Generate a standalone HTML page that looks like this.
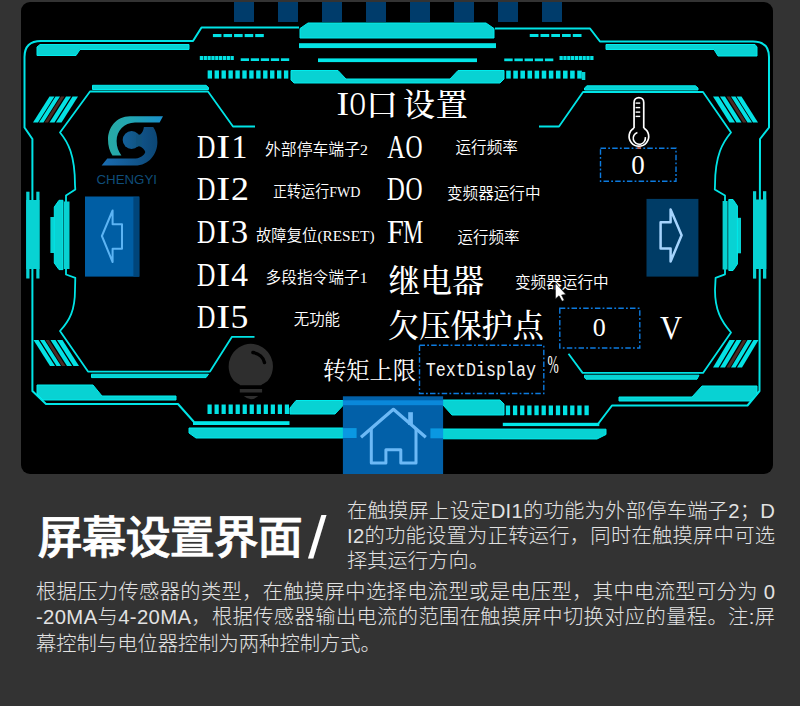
<!DOCTYPE html>
<html lang="zh"><head><meta charset="utf-8"><title>屏幕设置界面</title>
<style>html,body{margin:0;padding:0;background:#333333;}body{width:800px;height:706px;overflow:hidden}svg{display:block}</style>
</head><body>
<svg width="800" height="706" viewBox="0 0 800 706">
<rect width="800" height="706" fill="#333333"/>
<rect x="21" y="2" width="752" height="472" fill="#000" rx="9" ry="9"/>
<rect x="234" y="2" width="20" height="20" fill="#003c6b" />
<rect x="278" y="2" width="20" height="20" fill="#003c6b" />
<rect x="322" y="2" width="20" height="20" fill="#003c6b" />
<rect x="366" y="2" width="20" height="20" fill="#003c6b" />
<rect x="410" y="2" width="20" height="20" fill="#003c6b" />
<rect x="454" y="2" width="20" height="20" fill="#003c6b" />
<rect x="498" y="2" width="20" height="20" fill="#003c6b" />
<rect x="542" y="2" width="20" height="20" fill="#003c6b" />
<path d="M299,27.5 L201.5,27.5 L193,41 L41,41 Q24.5,41 24.5,57 L24.5,127.5 L32.4,139 L32.4,391 L46,404 L178,404 L194,422" fill="none" stroke="#00e4e6" stroke-width="2" stroke-linejoin="round" />
<path d="M495,28.5 L590,28.5 L600,41.5 L753,41.5 Q769,41.5 769,57 L769,127.5 L760,139 L759.5,391 L747.5,405.5 L612,405.5 L598,424" fill="none" stroke="#00e4e6" stroke-width="2" stroke-linejoin="round" />
<rect x="193" y="421.2" width="96.5" height="3.8" fill="#02e6e8" />
<rect x="502.8" y="422.8" width="96.5" height="3.3" fill="#02e6e8" />
<path d="M255,126.5 L233,126.5 L208,91.5 L90,91.5 L60,132.5 C68,142 75,155 75,185 L75.3,189.4 L66,195.6 L66,274.5 L75.3,277.8 L75,290 C75,310 70,320 60,331 L88,371.6 L210,371.6 L232,336.8 L254.5,336.8" fill="none" stroke="#00e4e6" stroke-width="1.8" stroke-linejoin="round" />
<path d="M539,126.5 L559,126.5 L583,92 L703,92 L731,132.5 C723,142 715,155 715,185 L714.8,189.4 L725,195.6 L725,274.3 L715.6,277.8 L715,290 C715,310 721,321 731,332.5 L703,372.9 L582.6,372.9 L568.5,353.8" fill="none" stroke="#00e4e6" stroke-width="1.8" stroke-linejoin="round" />
<polygon points="92.5,85.3 206,85.3 208.5,87.5 208.5,89.5 92.5,89.5" fill="#08d2d3" stroke="#00ecee" stroke-width="1" stroke-linejoin="round"/>
<polygon points="587,85.8 695.5,85.8 698,88 698,90 584.5,90 584.5,88" fill="#08d2d3" stroke="#00ecee" stroke-width="1" stroke-linejoin="round"/>
<polygon points="91.5,374.2 208.5,374.2 206,377.6 91.5,377.6" fill="#08d2d3" stroke="#00ecee" stroke-width="1" stroke-linejoin="round"/>
<polygon points="584.5,375.2 699,375.2 697,379.2 586,379.2 584.5,377.5" fill="#08d2d3" stroke="#00ecee" stroke-width="1" stroke-linejoin="round"/>
<polygon points="37,47 40,44.5 189,44.5 189,49.5 80,49.5 76,55.5 37,55.5" fill="#08d2d3" stroke="#00ecee" stroke-width="1" stroke-linejoin="round"/>
<polygon points="606,44.5 755,44.5 757,47 757,56 718,56 714,49.5 606,49.5" fill="#08d2d3" stroke="#00ecee" stroke-width="1" stroke-linejoin="round"/>
<polygon points="37,385 93,385 102,396 176,396 176,400 43,400 37,394" fill="#08d2d3" stroke="#00ecee" stroke-width="1" stroke-linejoin="round"/>
<polygon points="702,386 757,386 757,395 750,401 619,401 619,397 692,397" fill="#08d2d3" stroke="#00ecee" stroke-width="1" stroke-linejoin="round"/>
<polygon points="49.5,96.5 54.5,96.5 38,122.5 33,122.5" fill="#04e2e4" />
<polygon points="55.5,96.5 60,96.5 43.5,122.5 39,122.5" fill="#04e2e4" />
<polygon points="61,96.5 64.5,96.5 48,122.5 44.5,122.5" fill="#4a2a24" />
<polygon points="66,96.5 71,96.5 54.5,122.5 49.5,122.5" fill="#04e2e4" />
<polygon points="72.5,96.5 78,96.5 61.5,122.5 56,122.5" fill="#04e2e4" />
<polygon points="741.5,96.5 736.5,96.5 753,122.5 758,122.5" fill="#04e2e4" />
<polygon points="735.5,96.5 731,96.5 747.5,122.5 752,122.5" fill="#04e2e4" />
<polygon points="730,96.5 726.5,96.5 743,122.5 746.5,122.5" fill="#4a2a24" />
<polygon points="725,96.5 720,96.5 736.5,122.5 741.5,122.5" fill="#04e2e4" />
<polygon points="718.5,96.5 713,96.5 729.5,122.5 735,122.5" fill="#04e2e4" />
<polygon points="33.5,340 38.5,340 55,366 50,366" fill="#04e2e4" />
<polygon points="40,340 44.5,340 61,366 56.5,366" fill="#04e2e4" />
<polygon points="45.5,340 49,340 65.5,366 62,366" fill="#4a2a24" />
<polygon points="50.5,340 55.5,340 72,366 67,366" fill="#04e2e4" />
<polygon points="57,340 62.5,340 79,366 73.5,366" fill="#04e2e4" />
<polygon points="758.5,340 753.5,340 737,367.5 742,367.5" fill="#04e2e4" />
<polygon points="752,340 747.5,340 731,367.5 735.5,367.5" fill="#04e2e4" />
<polygon points="746.5,340 743,340 726.5,367.5 730,367.5" fill="#4a2a24" />
<polygon points="741.5,340 736.5,340 720,367.5 725,367.5" fill="#04e2e4" />
<polygon points="735,340 729.5,340 713,367.5 718.5,367.5" fill="#04e2e4" />
<rect x="26.2" y="191.7" width="3.3" height="86.8" fill="#08d2d3" />
<rect x="36.3" y="191.7" width="3.2" height="86.8" fill="#08d2d3" />
<rect x="26.2" y="200" width="13.3" height="69" fill="#08d2d3" />
<rect x="50.4" y="217" width="4.1" height="36" fill="#08d2d3" />
<polygon points="54.3,207 59,200.3 63,200.3 63,269.6 59,269.6 54.3,263" fill="#08d2d3" stroke="#00ecee" stroke-width="1" stroke-linejoin="round"/>
<rect x="64" y="201.5" width="5.5" height="67.5" fill="#08d2d3" />
<rect x="753" y="191.2" width="3.2" height="87.4" fill="#08d2d3" />
<rect x="763" y="191.2" width="3.3" height="87.4" fill="#08d2d3" />
<rect x="753" y="199.5" width="13.3" height="69.5" fill="#08d2d3" />
<rect x="737.2" y="217.8" width="3.8" height="35.5" fill="#08d2d3" />
<polygon points="737.4,206 733,199.5 728.8,199.5 728.8,270.5 733,270.5 737.4,264" fill="#08d2d3" stroke="#00ecee" stroke-width="1" stroke-linejoin="round"/>
<rect x="722.6" y="201" width="5" height="68.5" fill="#08d2d3" />
<polygon points="300,28.5 308,23 486,23 494,28.5 494,38 300,38" fill="#08d2d3" stroke="#00ecee" stroke-width="1" stroke-linejoin="round"/>
<rect x="299" y="43.2" width="197" height="4.9" fill="#04e2e4" />
<rect x="318" y="58.4" width="159" height="3.7" fill="#02e6e8" />
<polygon points="291,70.5 338,70.5 346,79 450,79 458,70.5 504,70.5 504,79 500,83 294,83 291,80" fill="#08d2d3" stroke="#00ecee" stroke-width="1" stroke-linejoin="round"/>
<rect x="212.9" y="34" width="8.57152" height="3.1" fill="#02e2e4" />
<rect x="223.482" y="34" width="8.57152" height="3.1" fill="#02e2e4" />
<rect x="234.064" y="34" width="8.57152" height="3.1" fill="#02e2e4" />
<rect x="244.646" y="34" width="8.57152" height="3.1" fill="#02e2e4" />
<rect x="255.228" y="34" width="8.57152" height="3.1" fill="#02e2e4" />
<rect x="529.75" y="34" width="8.71466" height="3" fill="#02e2e4" />
<rect x="540.509" y="34" width="8.71466" height="3" fill="#02e2e4" />
<rect x="551.268" y="34" width="8.71466" height="3" fill="#02e2e4" />
<rect x="562.027" y="34" width="8.71466" height="3" fill="#02e2e4" />
<rect x="572.785" y="34" width="8.71466" height="3" fill="#02e2e4" />
<rect x="199.8" y="56" width="3.30023" height="4" fill="#02e2e4" />
<rect x="203.637" y="56" width="3.30023" height="4" fill="#02e2e4" />
<rect x="207.475" y="56" width="3.30023" height="4" fill="#02e2e4" />
<rect x="211.312" y="56" width="3.30023" height="4" fill="#02e2e4" />
<rect x="215.15" y="56" width="3.30023" height="4" fill="#02e2e4" />
<rect x="218.987" y="56" width="3.30023" height="4" fill="#02e2e4" />
<rect x="222.825" y="56" width="3.30023" height="4" fill="#02e2e4" />
<rect x="226.662" y="56" width="3.30023" height="4" fill="#02e2e4" />
<rect x="230.5" y="56" width="3.30023" height="4" fill="#02e2e4" />
<rect x="559.5" y="56" width="3.30023" height="4" fill="#02e2e4" />
<rect x="563.337" y="56" width="3.30023" height="4" fill="#02e2e4" />
<rect x="567.175" y="56" width="3.30023" height="4" fill="#02e2e4" />
<rect x="571.012" y="56" width="3.30023" height="4" fill="#02e2e4" />
<rect x="574.85" y="56" width="3.30023" height="4" fill="#02e2e4" />
<rect x="578.687" y="56" width="3.30023" height="4" fill="#02e2e4" />
<rect x="582.525" y="56" width="3.30023" height="4" fill="#02e2e4" />
<rect x="586.362" y="56" width="3.30023" height="4" fill="#02e2e4" />
<rect x="590.2" y="56" width="3.30023" height="4" fill="#02e2e4" />
<rect x="240.7" y="58.3" width="8.33437" height="2.7" fill="#02e2e4" />
<rect x="250.741" y="58.3" width="8.33437" height="2.7" fill="#02e2e4" />
<rect x="260.783" y="58.3" width="8.33437" height="2.7" fill="#02e2e4" />
<rect x="270.824" y="58.3" width="8.33437" height="2.7" fill="#02e2e4" />
<rect x="280.866" y="58.3" width="8.33437" height="2.7" fill="#02e2e4" />
<rect x="504.25" y="58.5" width="8.42888" height="2.7" fill="#02e2e4" />
<rect x="514.405" y="58.5" width="8.42888" height="2.7" fill="#02e2e4" />
<rect x="524.561" y="58.5" width="8.42888" height="2.7" fill="#02e2e4" />
<rect x="534.716" y="58.5" width="8.42888" height="2.7" fill="#02e2e4" />
<rect x="544.871" y="58.5" width="8.42888" height="2.7" fill="#02e2e4" />
<rect x="207.65" y="70.4" width="4.36883" height="8.2" fill="#02e2e4" />
<rect x="214.585" y="70.4" width="4.36883" height="8.2" fill="#02e2e4" />
<rect x="221.519" y="70.4" width="4.36883" height="8.2" fill="#02e2e4" />
<rect x="228.454" y="70.4" width="4.36883" height="8.2" fill="#02e2e4" />
<rect x="235.389" y="70.4" width="4.36883" height="8.2" fill="#02e2e4" />
<rect x="242.323" y="70.4" width="4.36883" height="8.2" fill="#02e2e4" />
<rect x="249.258" y="70.4" width="4.36883" height="8.2" fill="#02e2e4" />
<rect x="256.193" y="70.4" width="4.36883" height="8.2" fill="#02e2e4" />
<rect x="263.127" y="70.4" width="4.36883" height="8.2" fill="#02e2e4" />
<rect x="270.062" y="70.4" width="4.36883" height="8.2" fill="#02e2e4" />
<rect x="276.997" y="70.4" width="4.36883" height="8.2" fill="#02e2e4" />
<rect x="283.931" y="70.4" width="4.36883" height="8.2" fill="#02e2e4" />
<rect x="506.2" y="70.6" width="4.54737" height="8" fill="#02e2e4" />
<rect x="513.305" y="70.6" width="4.54737" height="8" fill="#02e2e4" />
<rect x="520.411" y="70.6" width="4.54737" height="8" fill="#02e2e4" />
<rect x="527.516" y="70.6" width="4.54737" height="8" fill="#02e2e4" />
<rect x="534.621" y="70.6" width="4.54737" height="8" fill="#02e2e4" />
<rect x="541.726" y="70.6" width="4.54737" height="8" fill="#02e2e4" />
<rect x="548.832" y="70.6" width="4.54737" height="8" fill="#02e2e4" />
<rect x="555.937" y="70.6" width="4.54737" height="8" fill="#02e2e4" />
<rect x="563.042" y="70.6" width="4.54737" height="8" fill="#02e2e4" />
<rect x="570.147" y="70.6" width="4.54737" height="8" fill="#02e2e4" />
<rect x="577.253" y="70.6" width="4.54737" height="8" fill="#02e2e4" />
<rect x="581.8" y="72" width="3.5" height="8" fill="#08d2d3" />
<rect x="207.5" y="404.5" width="4.21552" height="9.5" fill="#02e2e4" />
<rect x="214.526" y="404.5" width="4.21552" height="9.5" fill="#02e2e4" />
<rect x="221.552" y="404.5" width="4.21552" height="9.5" fill="#02e2e4" />
<rect x="228.578" y="404.5" width="4.21552" height="9.5" fill="#02e2e4" />
<rect x="235.603" y="404.5" width="4.21552" height="9.5" fill="#02e2e4" />
<rect x="242.629" y="404.5" width="4.21552" height="9.5" fill="#02e2e4" />
<rect x="249.655" y="404.5" width="4.21552" height="9.5" fill="#02e2e4" />
<rect x="256.681" y="404.5" width="4.21552" height="9.5" fill="#02e2e4" />
<rect x="263.707" y="404.5" width="4.21552" height="9.5" fill="#02e2e4" />
<rect x="270.733" y="404.5" width="4.21552" height="9.5" fill="#02e2e4" />
<rect x="277.759" y="404.5" width="4.21552" height="9.5" fill="#02e2e4" />
<rect x="284.784" y="404.5" width="4.21552" height="9.5" fill="#02e2e4" />
<rect x="505.8" y="405.5" width="4.29052" height="9.7" fill="#02e2e4" />
<rect x="512.951" y="405.5" width="4.29052" height="9.7" fill="#02e2e4" />
<rect x="520.102" y="405.5" width="4.29052" height="9.7" fill="#02e2e4" />
<rect x="527.253" y="405.5" width="4.29052" height="9.7" fill="#02e2e4" />
<rect x="534.403" y="405.5" width="4.29052" height="9.7" fill="#02e2e4" />
<rect x="541.554" y="405.5" width="4.29052" height="9.7" fill="#02e2e4" />
<rect x="548.705" y="405.5" width="4.29052" height="9.7" fill="#02e2e4" />
<rect x="555.856" y="405.5" width="4.29052" height="9.7" fill="#02e2e4" />
<rect x="563.007" y="405.5" width="4.29052" height="9.7" fill="#02e2e4" />
<rect x="570.158" y="405.5" width="4.29052" height="9.7" fill="#02e2e4" />
<rect x="577.309" y="405.5" width="4.29052" height="9.7" fill="#02e2e4" />
<rect x="584.459" y="405.5" width="4.29052" height="9.7" fill="#02e2e4" />
<polygon points="290,408 296,400.5 343,400.5 343,405.5 335,414 290,414" fill="#08d2d3" stroke="#00ecee" stroke-width="1" stroke-linejoin="round"/>
<polygon points="443,400 500,400 504,404 504,415 452,415 443,405" fill="#08d2d3" stroke="#00ecee" stroke-width="1" stroke-linejoin="round"/>
<polygon points="189,428 343,428 343,438 196,438 189,433" fill="#08d2d3" stroke="#00ecee" stroke-width="1" stroke-linejoin="round"/>
<polygon points="443,429 606,429.2 606,434.5 597,439 443,438.8" fill="#08d2d3" stroke="#00ecee" stroke-width="1" stroke-linejoin="round"/>
<rect x="342.9" y="396.3" width="100.2" height="77.7" fill="#0260a8" />
<rect x="342.9" y="400.3" width="100.2" height="4.9" fill="#0a88da" />
<rect x="342.9" y="428.1" width="13.7" height="9.9" fill="#0a98e2" />
<rect x="430.4" y="428.4" width="12.7" height="9.9" fill="#0a98e2" />
<path d="M361,437.3 L393.4,409.3 L425.8,437.3" fill="none" stroke="#6cb9f6" stroke-width="3.2" stroke-linejoin="round" stroke-linejoin="miter"/>
<rect x="408.2" y="412.2" width="4.7" height="12.8" fill="#6cb9f6" />
<path d="M371.3,428.5 L371.3,463.1 L385.9,463.1 L385.9,449.8 L400.8,449.8 L400.8,463.1 L416,463.1 L416,428.5" fill="none" stroke="#6cb9f6" stroke-width="3" stroke-linejoin="round" stroke-linejoin="miter"/>
<rect x="85" y="196.5" width="54.3" height="80.1" fill="#005ea4" />
<rect x="133.4" y="197.2" width="5.9" height="79.4" fill="#00457a" />
<path d="M101.9,236 L112.6,210.5 L112.6,224.2 L122,224.2 L122,248.7 L112.6,248.7 L112.6,262 Z" fill="none" stroke="#5cb4f4" stroke-width="2" stroke-linejoin="round" stroke-linejoin="miter" stroke-miterlimit="10"/>
<rect x="646.5" y="198.9" width="51.9" height="77.7" fill="#003c66" />
<path d="M681.6,235.3 L670.6,209.5 L670.6,222.3 L660.6,222.3 L660.6,248.4 L670.6,248.4 L670.6,261.5 Z" fill="none" stroke="#a6d4fd" stroke-width="2.5" stroke-linejoin="round" stroke-linejoin="miter" stroke-miterlimit="10"/>
<defs>
<linearGradient id="g1" x1="0" y1="0" x2="1" y2="0"><stop offset="0" stop-color="#27aaa4"/><stop offset="0.45" stop-color="#22a5b4"/><stop offset="1" stop-color="#1b90cc"/></linearGradient>
<linearGradient id="g2" x1="0" y1="0" x2="1" y2="0"><stop offset="0" stop-color="#1a6db2"/><stop offset="1" stop-color="#0c4674"/></linearGradient>
<linearGradient id="g3" x1="0" y1="0" x2="1" y2="0"><stop offset="0" stop-color="#14609a"/><stop offset="1" stop-color="#10537f"/></linearGradient>
</defs>
<path d="M163,116.2 L130,116.2 C116,116.2 108,128 108,139.5 C108,146 109.5,151 112.4,155.4 L121.4,155.4 C118.5,151.5 116.6,147 116.6,141 C116.6,131 124,122.6 135,122.6 L159.6,122.6 Z" fill="url(#g1)"/>
<path d="M101.6,165.6 L135,165.6 C149,165.6 157.4,154 157.4,142 C157.4,135.5 155.8,131 153.2,127 L143.9,127 C143.5,130 142.5,132.5 140.2,134.6 L140.2,146.4 C142.5,147.5 144.5,149.5 145.3,152 C144,156 139.5,158.6 133.5,158.6 L107.3,158.6 Z" fill="url(#g2)"/>
<circle cx="131.6" cy="140" r="8.9" fill="url(#g3)"/>
<rect x="136" y="134.6" width="6" height="11.8" fill="#10537f"/>
<text x="96.5" y="183.6" font-size="13.6" font-family='"Liberation Sans", "Noto Sans CJK SC", sans-serif' fill="#0f4d79" textLength="60.5" lengthAdjust="spacingAndGlyphs" >CHENGYI</text>
<path d="M634.05,128 L634.05,102.4 A4.85,4.85 0 0 1 643.75,102.4 L643.75,128" fill="none" stroke="#fff" stroke-width="1.7" stroke-linejoin="round" />
<path d="M634.05,127.9 A9.8,9.8 0 1 0 643.75,127.9" fill="none" stroke="#fff" stroke-width="1.7" stroke-linejoin="round" />
<path d="M637.4,132.4 A6.1,6.1 0 1 0 645.3,137.2" fill="none" stroke="#fff" stroke-width="1.6" stroke-linejoin="round" />
<path d="M635.6,103.1 L640.2,103.1" fill="none" stroke="#fff" stroke-width="1.4" stroke-linejoin="round" />
<path d="M635.6,107.6 L640.2,107.6" fill="none" stroke="#fff" stroke-width="1.4" stroke-linejoin="round" />
<path d="M635.6,112.1 L640.2,112.1" fill="none" stroke="#fff" stroke-width="1.4" stroke-linejoin="round" />
<path d="M635.6,116.4 L640.2,116.4" fill="none" stroke="#fff" stroke-width="1.4" stroke-linejoin="round" />
<rect x="600.5" y="148.3" width="75.5" height="33" fill="none" stroke="#0c7be0" stroke-width="1.4" stroke-dasharray="5.5 2.2 1.8 2.2"/>
<rect x="559.8" y="308.3" width="80" height="39.7" fill="none" stroke="#0c7be0" stroke-width="1.4" stroke-dasharray="5.5 2.2 1.8 2.2"/>
<rect x="419.5" y="345.3" width="124.3" height="48.2" fill="none" stroke="#0c7be0" stroke-width="1.4" stroke-dasharray="5.5 2.2 1.8 2.2"/>
<rect x="637.3" y="147.2" width="3.7" height="1.6" fill="#e8623a" />
<path d="M250.8,343.7 A22.7,22.7 0 0 1 267.6,381 C265,383 262.5,384 261.1,385.2 L240.3,385.2 C239,384 236.5,383 234,381 A22.7,22.7 0 0 1 250.8,343.7 Z" fill="#2e2e2e"/>
<rect x="239.8" y="389" width="22.3" height="3.5" fill="#2e2e2e" />
<path d="M243.8,396 L258.2,396 Q251,402.5 243.8,396 Z" fill="#2e2e2e"/>
<path d="M252.9,352.5 C259,353.5 263.5,357.5 264.5,362.6" fill="none" stroke="#000" stroke-width="3.4" stroke-linejoin="round" stroke-linecap="round"/>
<text font-family='"Liberation Serif", "Noto Serif CJK SC", serif' fill="#fff"><tspan x="336.53" y="114.8" font-size="33.5" textLength="12.60" lengthAdjust="spacingAndGlyphs">I</tspan><tspan x="349.70" y="114.8" font-size="33.5" textLength="15.91" lengthAdjust="spacingAndGlyphs">O</tspan><tspan x="366 403 435.8" y="116" font-size="32" font-weight="500">口设置</tspan></text>
<text y="157.6" font-size="33.6" font-family='"Liberation Serif", "Noto Serif CJK SC", serif' fill="#fff"><tspan x="197.02" textLength="18.40" lengthAdjust="spacingAndGlyphs">D</tspan><tspan x="216.23" textLength="14.00" lengthAdjust="spacingAndGlyphs">I</tspan><tspan x="231.60" textLength="15.91" lengthAdjust="spacingAndGlyphs">1</tspan></text>
<text y="200" font-size="33.6" font-family='"Liberation Serif", "Noto Serif CJK SC", serif' fill="#fff"><tspan x="197.02" textLength="18.40" lengthAdjust="spacingAndGlyphs">D</tspan><tspan x="216.23" textLength="14.00" lengthAdjust="spacingAndGlyphs">I</tspan><tspan x="230.92" textLength="17.96" lengthAdjust="spacingAndGlyphs">2</tspan></text>
<text y="242.9" font-size="33.6" font-family='"Liberation Serif", "Noto Serif CJK SC", serif' fill="#fff"><tspan x="197.02" textLength="18.40" lengthAdjust="spacingAndGlyphs">D</tspan><tspan x="216.23" textLength="14.00" lengthAdjust="spacingAndGlyphs">I</tspan><tspan x="230.83" textLength="17.43" lengthAdjust="spacingAndGlyphs">3</tspan></text>
<text y="285.6" font-size="33.6" font-family='"Liberation Serif", "Noto Serif CJK SC", serif' fill="#fff"><tspan x="197.02" textLength="18.40" lengthAdjust="spacingAndGlyphs">D</tspan><tspan x="216.23" textLength="14.00" lengthAdjust="spacingAndGlyphs">I</tspan><tspan x="231.24" textLength="16.78" lengthAdjust="spacingAndGlyphs">4</tspan></text>
<text y="328.2" font-size="33.6" font-family='"Liberation Serif", "Noto Serif CJK SC", serif' fill="#fff"><tspan x="197.02" textLength="18.40" lengthAdjust="spacingAndGlyphs">D</tspan><tspan x="216.23" textLength="14.00" lengthAdjust="spacingAndGlyphs">I</tspan><tspan x="230.42" textLength="17.87" lengthAdjust="spacingAndGlyphs">5</tspan></text>
<text y="157.6" font-size="33.6" font-family='"Liberation Serif", "Noto Serif CJK SC", serif' fill="#fff"><tspan x="387.16" textLength="17.82" lengthAdjust="spacingAndGlyphs">A</tspan><tspan x="405.53" textLength="17.04" lengthAdjust="spacingAndGlyphs">O</tspan></text>
<text y="200" font-size="33.6" font-family='"Liberation Serif", "Noto Serif CJK SC", serif' fill="#fff"><tspan x="387.09" textLength="17.80" lengthAdjust="spacingAndGlyphs">D</tspan><tspan x="405.53" textLength="17.04" lengthAdjust="spacingAndGlyphs">O</tspan></text>
<text y="242.9" font-size="33.6" font-family='"Liberation Serif", "Noto Serif CJK SC", serif' fill="#fff"><tspan x="387.12" textLength="16.98" lengthAdjust="spacingAndGlyphs">F</tspan><tspan x="403.26" textLength="19.90" lengthAdjust="spacingAndGlyphs">M</tspan></text>
<text x="265" y="155" font-size="15.6" font-family='"Liberation Serif", "Noto Sans CJK SC", sans-serif' fill="#fff" textLength="103" lengthAdjust="spacingAndGlyphs" font-weight="350" >外部停车端子2</text>
<text x="273" y="197" font-size="15.6" font-family='"Liberation Serif", "Noto Sans CJK SC", sans-serif' fill="#fff" textLength="87.5" lengthAdjust="spacingAndGlyphs" font-weight="350" >正转运行FWD</text>
<text x="256" y="241" font-size="15.6" font-family='"Liberation Serif", "Noto Sans CJK SC", sans-serif' fill="#fff" textLength="118.5" lengthAdjust="spacingAndGlyphs" font-weight="350" >故障复位(RESET)</text>
<text x="265.5" y="283" font-size="15.6" font-family='"Liberation Serif", "Noto Sans CJK SC", sans-serif' fill="#fff" textLength="102" lengthAdjust="spacingAndGlyphs" font-weight="350" >多段指令端子1</text>
<text x="293.75" y="324.5" font-size="15.6" font-family='"Liberation Serif", "Noto Sans CJK SC", sans-serif' fill="#fff" textLength="46.3" lengthAdjust="spacingAndGlyphs" font-weight="350" >无功能</text>
<text x="455.5" y="153" font-size="15.6" font-family='"Liberation Serif", "Noto Sans CJK SC", sans-serif' fill="#fff" textLength="62.5" lengthAdjust="spacingAndGlyphs" font-weight="350" >运行频率</text>
<text x="447" y="198.5" font-size="15.6" font-family='"Liberation Serif", "Noto Sans CJK SC", sans-serif' fill="#fff" textLength="93.5" lengthAdjust="spacingAndGlyphs" font-weight="350" >变频器运行中</text>
<text x="457.5" y="243" font-size="15.6" font-family='"Liberation Serif", "Noto Sans CJK SC", sans-serif' fill="#fff" textLength="62" lengthAdjust="spacingAndGlyphs" font-weight="350" >运行频率</text>
<text x="515" y="288" font-size="15.6" font-family='"Liberation Serif", "Noto Sans CJK SC", sans-serif' fill="#fff" textLength="93.75" lengthAdjust="spacingAndGlyphs" font-weight="350" >变频器运行中</text>
<text x="388.5" y="291.5" font-size="31.5" font-family='"Liberation Serif", "Noto Serif CJK SC", serif' fill="#fff" textLength="95.5" lengthAdjust="spacingAndGlyphs" font-weight="500" >继电器</text>
<text x="388" y="336.5" font-size="31.5" font-family='"Liberation Serif", "Noto Serif CJK SC", serif' fill="#fff" textLength="156" lengthAdjust="spacingAndGlyphs" font-weight="500" >欠压保护点</text>
<text x="323" y="378.5" font-size="24" font-family='"Liberation Serif", "Noto Serif CJK SC", serif' fill="#fff" textLength="93" lengthAdjust="spacingAndGlyphs" font-weight="400" >转矩上限</text>
<text x="425.8" y="375.7" font-size="20" font-family='"Liberation Mono", "Noto Sans Mono CJK SC", monospace' fill="#f2f2f2" textLength="110.3" lengthAdjust="spacingAndGlyphs" >TextDisplay</text>
<text x="547.5" y="372.5" font-size="25" font-family='"Liberation Serif", "Noto Serif CJK SC", serif' fill="#fff" textLength="11.25" lengthAdjust="spacingAndGlyphs" >%</text>
<text x="638" y="174.3" font-size="27" font-family='"Liberation Serif", "Noto Serif CJK SC", serif' fill="#fff" text-anchor="middle" >0</text>
<text x="599.3" y="336.3" font-size="26" font-family='"Liberation Serif", "Noto Serif CJK SC", serif' fill="#fff" text-anchor="middle" >0</text>
<text x="660" y="338.6" font-size="34" font-family='"Liberation Serif", "Noto Serif CJK SC", serif' fill="#fff" textLength="22" lengthAdjust="spacingAndGlyphs" >V</text>
<path d="M555.4,282.8 L555.4,298.9 L559,295.8 L562,301.3 L564.3,300.3 L561.6,295 L566,294.6 Z" fill="#fff" stroke="#000" stroke-width="0.6"/>
<text font-family='"Liberation Sans", "Noto Sans CJK SC", sans-serif' fill="#fff"><tspan x="37.6" y="554.2" font-size="45.4" font-weight="500" textLength="265.2" lengthAdjust="spacing" stroke="#fff" stroke-width="0.7" stroke-linejoin="round">屏幕设置界面</tspan><tspan x="308" y="558" font-size="59" font-weight="normal" textLength="18.5" lengthAdjust="spacingAndGlyphs">/</tspan></text>
<text x="347" y="517.5" font-size="20.3" font-family='"Liberation Sans", "Noto Sans CJK SC", sans-serif' fill="#e2e2e2" textLength="428" lengthAdjust="spacing" font-weight="300" >在触摸屏上设定DI1的功能为外部停车端子2；D</text>
<text x="347" y="542.5" font-size="20.3" font-family='"Liberation Sans", "Noto Sans CJK SC", sans-serif' fill="#e2e2e2" textLength="428" lengthAdjust="spacing" font-weight="300" >I2的功能设置为正转运行，同时在触摸屏中可选</text>
<text x="347" y="568" font-size="20.3" font-family='"Liberation Sans", "Noto Sans CJK SC", sans-serif' fill="#e2e2e2" font-weight="300" >择其运行方向。</text>
<text x="36" y="599.2" font-size="20.3" font-family='"Liberation Sans", "Noto Sans CJK SC", sans-serif' fill="#e2e2e2" textLength="739" lengthAdjust="spacing" font-weight="300" >根据压力传感器的类型，在触摸屏中选择电流型或是电压型，其中电流型可分为 0</text>
<text x="36" y="624.4" font-size="20.3" font-family='"Liberation Sans", "Noto Sans CJK SC", sans-serif' fill="#e2e2e2" textLength="739" lengthAdjust="spacing" font-weight="300" >-20MA与4-20MA，根据传感器输出电流的范围在触摸屏中切换对应的量程。注:屏</text>
<text x="36" y="650.5" font-size="20.3" font-family='"Liberation Sans", "Noto Sans CJK SC", sans-serif' fill="#e2e2e2" font-weight="300" >幕控制与电位器控制为两种控制方式。</text>
</svg>
</body></html>
